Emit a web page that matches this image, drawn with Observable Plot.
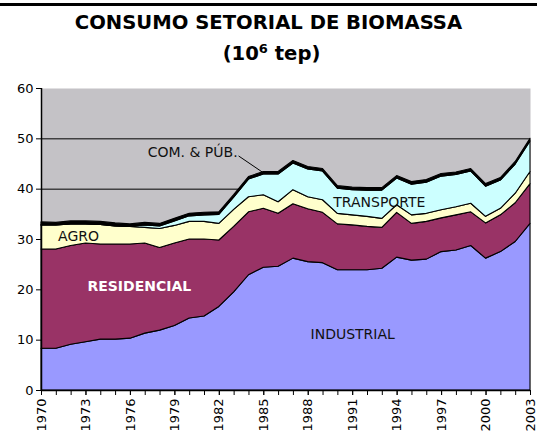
<!DOCTYPE html>
<html>
<head>
<meta charset="utf-8">
<script src="https://cdn.jsdelivr.net/npm/d3@7"></script>
<script src="https://cdn.jsdelivr.net/npm/@observablehq/plot@0.6"></script>
<style>
  html, body { margin: 0; padding: 0; background: #fff; }
  #wrap { position: relative; width: 537px; height: 434px; overflow: hidden; font-family: "DejaVu Sans", Verdana, sans-serif; }
  #rule { position: absolute; left: 0; top: 3px; width: 537px; height: 3px; background: #000; }
  .ttl { position: absolute; left: 0; width: 537px; text-align: center; font-weight: bold; font-size: 19.6px; line-height: 19.6px; color: #000; white-space: nowrap; }
  #t1 { top: 13px; left: 0px; }
  #t2 { top: 44px; left: 3px; }
  #t2 sup { font-size: 13px; position: relative; top: -2px; vertical-align: top; line-height: 13px; }
  #chart { position: absolute; left: 0; top: 60px; }
</style>
</head>
<body>
<div id="wrap">
  <div id="rule"></div>
  <div class="ttl" id="t1">CONSUMO SETORIAL DE BIOMASSA</div>
  <div class="ttl" id="t2">(10<sup>6</sup> tep)</div>
  <div id="chart"></div>
</div>
<script>
const years = [1970,1971,1972,1973,1974,1975,1976,1977,1978,1979,1980,1981,1982,1983,1984,1985,1986,1987,1988,1989,1990,1991,1992,1993,1994,1995,1996,1997,1998,1999,2000,2001,2002,2003];
const industrial  = [8.3,8.3,9.1,9.6,10.1,10.1,10.3,11.3,11.9,12.8,14.3,14.7,16.6,19.5,22.9,24.4,24.6,26.2,25.5,25.3,23.9,23.9,23.9,24.2,26.4,25.8,26.0,27.5,27.8,28.7,26.2,27.5,29.5,33.1];
const residencial = [19.7,19.7,19.6,19.6,18.9,18.9,18.7,17.9,16.4,16.4,15.7,15.3,13.2,13.0,12.5,11.7,10.5,10.8,10.5,10.0,9.1,8.9,8.6,8.1,8.9,7.3,7.5,6.7,7.0,6.7,7.0,7.3,7.7,7.9];
const agro        = [4.8,4.8,4.3,3.8,3.9,3.6,3.5,3.1,3.8,3.5,3.5,3.5,3.3,3.4,3.0,2.7,2.3,2.8,2.4,2.5,2.1,2.0,2.0,1.8,1.5,1.7,1.6,1.6,1.6,1.7,1.3,1.3,1.9,2.4];
const transporte  = [0,0,0,0,0,0,0,0.5,0.5,0.9,1.1,1.3,1.8,2.4,3.5,4.1,5.5,5.3,5.5,5.7,5.0,5.0,5.2,5.6,5.3,6.1,6.2,6.7,6.4,6.4,6.0,5.6,5.8,6.1];
const comPub      = [0.6,0.5,0.6,0.6,0.6,0.6,0.5,0.5,0.5,0.5,0.5,0.5,0.5,0.5,0.5,0.5,0.5,0.5,0.5,0.5,0.5,0.5,0.5,0.5,0.5,0.5,0.5,0.5,0.5,0.5,0.5,0.5,0.5,0.5];

const seriesNames  = ["INDUSTRIAL","RESIDENCIAL","AGRO","TRANSPORTE","COM. & PÚB."];
const seriesColors = ["#9999ff","#993366","#ffffcc","#ccffff","#000000"];
const seriesValues = [industrial, residencial, agro, transporte, comPub];

const yTicks = [0,10,20,30,40,50,60];
const gridValues = [10,20,30,40,50];
const xLabelYears = [1970,1973,1976,1979,1982,1985,1988,1991,1994,1997,2000,2003];

// annotation labels (data coordinates)
const labelText  = ["COM. & PÚB.","TRANSPORTE","AGRO","INDUSTRIAL"];
const labelYear  = [1980.2,1992.8,1972.5,1991.0];
const labelValue = [47.2,37.3,30.5,11.1];
const resLabel = {text: "RESIDENCIAL", year: 1976.6, value: 20.7};
const leader = {x1: 1983.3, y1: 46.6, x2: 1984.9, y2: 43.4};

const table = [];
seriesNames.forEach((s, i) => {
  years.forEach((yr, j) => table.push({series: s, year: yr, value: seriesValues[i][j]}));
});
const labels = labelText.map((t, i) => ({text: t, year: labelYear[i], value: labelValue[i]}));

const chart = Plot.plot({
  width: 537,
  height: 374,
  marginLeft: 41,
  marginRight: 7,
  marginTop: 28,
  marginBottom: 44,
  style: {fontFamily: "DejaVu Sans, Verdana, sans-serif", fontSize: "13px", color: "#000", background: "transparent"},
  x: {domain: [1970, 2003]},
  y: {domain: [0, 60]},
  color: {domain: seriesNames, range: seriesColors},
  marks: [
    Plot.frame({fill: "#c4c2c6", stroke: null}),
    Plot.ruleY(gridValues, {stroke: "#000", strokeWidth: 1}),
    Plot.areaY(table, Plot.stackY({
      x: "year", y: "value", z: "series", fill: "series",
      order: seriesNames,
      stroke: "#000", strokeWidth: 1.1, strokeLinejoin: "round"
    })),
    Plot.ruleX([1970], {stroke: "#000", strokeWidth: 1.5}),
    Plot.ruleY([0], {stroke: "#000", strokeWidth: 1.5}),
    Plot.axisY({ticks: yTicks, tickSize: 5, tickPadding: 3, label: null, fontSize: 13}),
    Plot.axisX({ticks: years, tickSize: 5, text: null, label: null}),
    Plot.axisX({ticks: xLabelYears, tickSize: 5, tickPadding: 3, tickRotate: -90, tickFormat: d => String(d), label: null, fontSize: 13}),
    Plot.link([leader], {x1: "x1", y1: "y1", x2: "x2", y2: "y2", stroke: "#000", strokeWidth: 1}),
    Plot.text(labels, {x: "year", y: "value", text: "text", fill: "#111", fontSize: 14, textAnchor: "middle"}),
    Plot.text([resLabel], {x: "year", y: "value", text: "text", fill: "#fff", fontSize: 14, fontWeight: "bold", textAnchor: "middle"})
  ]
});
document.getElementById("chart").appendChild(chart);
</script>
</body>
</html>
